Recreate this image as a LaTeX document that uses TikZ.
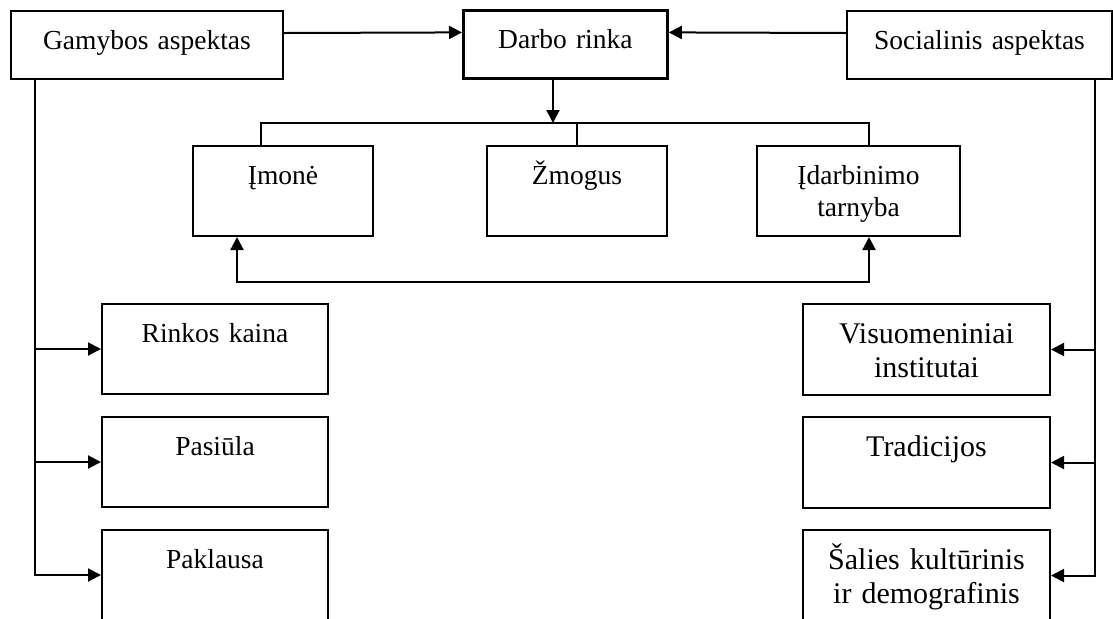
\documentclass[tikz,border=0pt]{standalone}
\usepackage{fontspec}
\setmainfont{Liberation Serif}
\usetikzlibrary{arrows.meta}

\begin{document}
\begin{tikzpicture}[
	x=0.5pt, y=-0.5pt, line width=1pt,
	>={Triangle[length=6.5pt,width=6.5pt]},
	dezute/.style={draw=black, rectangle, inner sep=0pt,
		anchor=north west, align=center,
		font=\fontsize{13.75}{16}\selectfont, text height=19pt},
	virsus/.style={dezute, text depth=15pt},
	vidurys/.style={dezute, text depth=26pt},
	didele/.style={font=\fontsize{15}{17}\selectfont, text height=19.5pt},
	rodykle/.style={->, line width=1pt, black},
	linija/.style={line width=1pt, black}]
	
	\useasboundingbox (0,0) rectangle (1113,618);
	
	%% --- viršutinė eilė ---
	\node[virsus, text width=136pt] (gamyba) at (10,10) {Gamybos aspektas};
	\node[virsus, text width=102pt, line width=1.4pt] (darbas) at (462,9) {Darbo rinka};
	\node[virsus, text width=132.5pt] (socialinis) at (846,10) {Socialinis aspektas};
	
	%% --- vidurinė eilė ---
	\node[vidurys, text width=90pt] (imone) at (192,145) {Įmonė};
	\node[vidurys, text width=90pt] (zmogus) at (486,145) {Žmogus};
	\node[vidurys, text width=101.5pt] (tarnyba) at (756,145) {Įdarbinimo\\tarnyba};
	
	%% --- kairysis stulpelis ---
	\node[vidurys, text width=113pt] (kaina) at (101,303) {Rinkos kaina};
	\node[vidurys, text width=113pt] (pasiula) at (101,416) {Pasiūla};
	\node[vidurys, text width=113pt] (paklausa) at (101,529) {Paklausa};
	
	%% --- dešinysis stulpelis ---
	\node[vidurys, didele, text width=123.5pt] (institutai) at (802,303) {Visuomeniniai\\institutai};
	\node[vidurys, didele, text width=123.5pt] (tradicijos) at (802,416) {Tradicijos};
	\node[vidurys, didele, text width=123.5pt] (salies) at (802,529) {Šalies kultūrinis\\ir demografinis};
	
	%% --- rodyklės į darbo rinką ---
	\draw[rodykle] ([yshift=6pt]gamyba.east) -- ([yshift=6pt]darbas.west);
	\draw[rodykle] ([yshift=6pt]socialinis.west) -- ([yshift=6pt]darbas.east);
	
	%% --- šakojimas žemyn ---
	\coordinate (sakos) at (553,123);
	\draw[rodykle] (darbas.south -| sakos) -- (sakos);
	\draw[linija] ([xshift=-11pt]imone.north) |- (sakos) -| ([xshift=5.25pt]tarnyba.north);
	\draw[linija] (zmogus.north) -- (zmogus.north |- sakos);
	
	%% --- grįžtamasis ryšys ---
	\draw[rodykle, <->] ([xshift=-23pt]imone.south) -- ++(0,45) -| ([xshift=5.25pt]tarnyba.south);
	
	%% --- kairysis kamienas ---
	\coordinate (kamK) at ([xshift=-56pt]gamyba.south);
	\draw[rodykle] (kamK) |- (paklausa.west);
	\foreach \b in {kaina, pasiula}
		\draw[rodykle] (kamK |- \b.west) -- (\b.west);
	
	%% --- dešinysis kamienas ---
	\coordinate (kamD) at ([xshift=57.75pt]socialinis.south);
	\draw[rodykle] (kamD) |- (salies.east);
	\foreach \b in {institutai, tradicijos}
		\draw[rodykle] (kamD |- \b.east) -- (\b.east);
	
\end{tikzpicture}
\end{document}
